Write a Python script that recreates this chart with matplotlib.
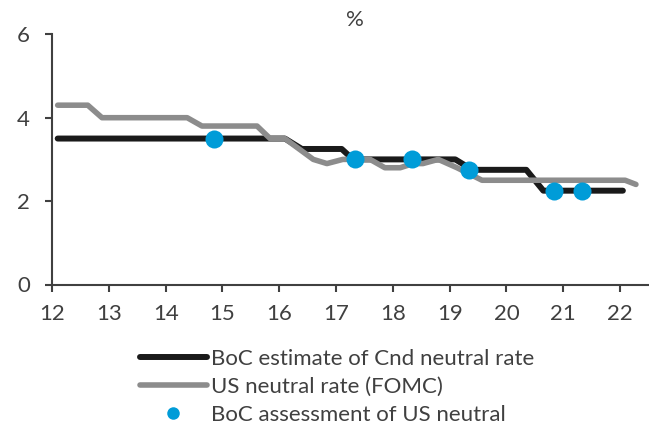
import matplotlib
matplotlib.use("Agg")
import matplotlib.pyplot as plt
from matplotlib.lines import Line2D

plt.rcParams['font.family'] = ['Lato', 'DejaVu Sans']

# Données (années 2012-2022)
boc_x = [12.1, 16.1, 16.4, 17.1, 17.3, 19.1, 19.4, 20.35, 20.65, 22.05]
boc_y = [3.5, 3.5, 3.25, 3.25, 3.0, 3.0, 2.75, 2.75, 2.25, 2.25]

us_x = [12.1, 12.63, 12.88, 14.38, 14.64, 15.61, 15.84, 16.1, 16.6, 16.84,
        17.12, 17.6, 17.86, 18.13, 18.36, 18.53, 18.8, 19.13, 19.57, 22.09, 22.28]
us_y = [4.3, 4.3, 4.0, 4.0, 3.8, 3.8, 3.5, 3.5, 3.0, 2.9,
        3.0, 3.0, 2.8, 2.8, 2.9, 2.9, 3.0, 2.8, 2.5, 2.5, 2.4]

dots_x = [14.86, 17.34, 18.34, 19.34, 20.83, 21.33]
dots_y = [3.5, 3.0, 3.0, 2.75, 2.25, 2.25]

x_ticks = list(range(12, 23))
y_ticks = [0, 2, 4, 6]

black = '#1a1a1a'
grey = '#8c8c8c'
blue = '#009cd8'
txt = '#404040'

fig = plt.figure(figsize=(6.49, 4.30), dpi=100)
ax = fig.add_axes([52 / 649, 145.5 / 430, 597 / 649, 250.2 / 430])

ax.plot(boc_x, boc_y, color=black, lw=4.3, solid_capstyle='round',
        solid_joinstyle='round', zorder=2)
ax.plot(us_x, us_y, color=grey, lw=4.0, solid_capstyle='round',
        solid_joinstyle='round', zorder=3)
ax.plot(dots_x, dots_y, 'o', color=blue, ms=13, mec='none', zorder=4)

ax.set_xlim(12, 22.51)
ax.set_ylim(0, 6)
ax.set_xticks(x_ticks)
ax.set_yticks(y_ticks)

for s in ['top', 'right']:
    ax.spines[s].set_visible(False)
for s in ['left', 'bottom']:
    ax.spines[s].set_color(txt)
    ax.spines[s].set_linewidth(1.5)

ax.tick_params(axis='both', colors=txt, labelcolor=txt, labelsize=16,
               length=5, width=1.5, direction='out')
ax.tick_params(axis='y', pad=11)
ax.tick_params(axis='x', pad=9)

fig.text(355 / 649, 1 - 20 / 430, '%', ha='center', va='center',
         fontsize=16, color=txt)

handles = [
    Line2D([], [], color=black, lw=4.3, solid_capstyle='round'),
    Line2D([], [], color=grey, lw=4.0, solid_capstyle='round'),
    Line2D([], [], ls='none', marker='o', color=blue, ms=9, mec='none'),
]
labels = ['BoC estimate of Cnd neutral rate', 'US neutral rate (FOMC)',
          'BoC assessment of US neutral']
leg = fig.legend(handles, labels, loc='center left',
                 bbox_to_anchor=(140 / 649, 1 - 387 / 430), frameon=False,
                 handlelength=3.0, handletextpad=0.2, labelspacing=0.35,
                 borderpad=0, borderaxespad=0, prop={'size': 16})
for t in leg.get_texts():
    t.set_color(txt)

fig.savefig('out.png', dpi=100)
